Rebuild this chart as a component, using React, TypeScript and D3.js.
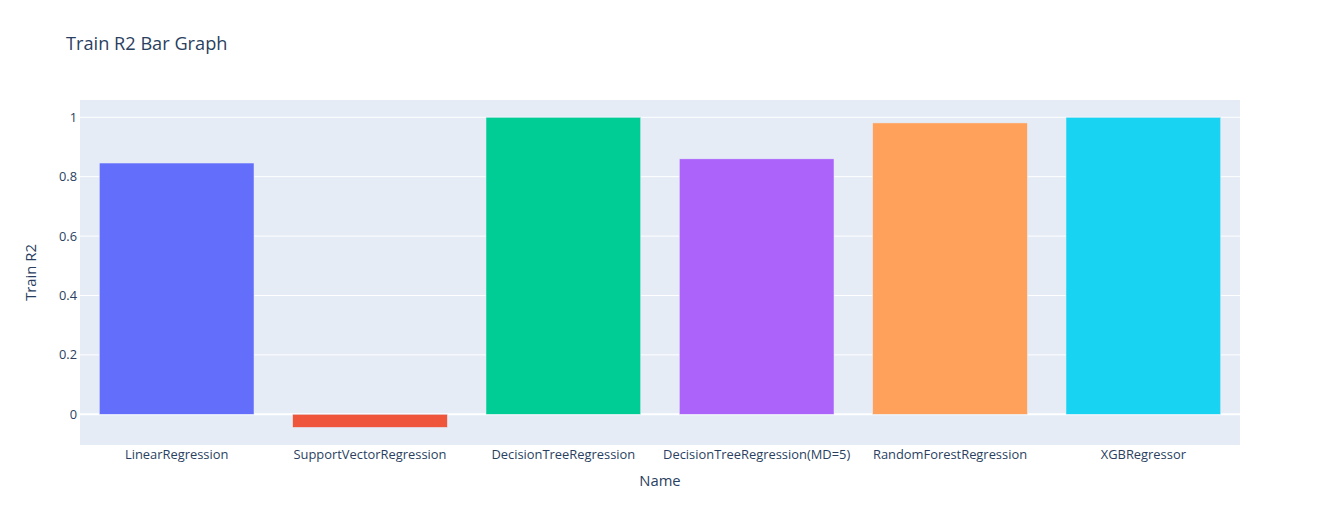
import React from 'react';
import * as d3 from 'd3';

const names = [
  'LinearRegression',
  'SupportVectorRegression',
  'DecisionTreeRegression',
  'DecisionTreeRegression(MD=5)',
  'RandomForestRegression',
  'XGBRegressor',
];
const trainR2 = [0.846, -0.044, 1.0, 0.86, 0.981, 0.9999];
const barColors = ['#636efa', '#EF553B', '#00cc96', '#ab63fa', '#FFA15A', '#19d3f3'];
const yTicks = [0, 0.2, 0.4, 0.6, 0.8, 1];

const W = 1320, H = 525;
const margin = { l: 80, r: 80, t: 100, b: 80 };
const font = '"Open Sans", verdana, arial, sans-serif';
const ink = '#2a3f5f';

export default function App() {
  const pw = W - margin.l - margin.r;
  const ph = H - margin.t - margin.b;

  const x = d3.scaleBand<string>().domain(names).range([0, pw]).paddingInner(0.2).paddingOuter(0.1);
  const y = d3.scaleLinear().domain([-0.1034, 1.0582]).range([ph, 0]);

  return (
    <svg width={W} height={H} style={{ display: 'block', position: 'absolute', left: 0, top: 0 }} fontFamily={font}>
      <rect width={W} height={H} fill="#fff" />
      <text x={66} y={50} fontSize={18.2} fill={ink}>Train R2 Bar Graph</text>
      <g transform={`translate(${margin.l},${margin.t})`}>
        <rect width={pw} height={ph} fill="#E5ECF6" />
        {yTicks.filter(t => t !== 0).map(t => (
          <line key={t} x1={0} x2={pw} y1={y(t)} y2={y(t)} stroke="#fff" strokeWidth={1} />
        ))}
        <line x1={0} x2={pw} y1={y(0)} y2={y(0)} stroke="#fff" strokeWidth={2} />
        {names.map((n, i) => {
          const v = trainR2[i];
          const top = Math.min(y(v), y(0));
          const h = Math.abs(y(v) - y(0));
          return (
            <rect key={n} x={x(n)} y={top} width={x.bandwidth()} height={h}
              fill={barColors[i]} stroke="#E5ECF6" strokeWidth={0.5} />
          );
        })}
        {yTicks.map(t => (
          <text key={t} x={-3} y={y(t)} dy="0.35em" textAnchor="end" fontSize={12.8} fill={ink}>
            {d3.format('~g')(t)}
          </text>
        ))}
        {names.map(n => (
          <text key={n} x={(x(n) ?? 0) + x.bandwidth() / 2} y={ph + 13.5} textAnchor="middle"
            fontSize={12.9} fill={ink}>
            {n}
          </text>
        ))}
        <text x={pw / 2} y={ph + 41} textAnchor="middle" fontSize={14.8} fill={ink}>Name</text>
        <text transform={`translate(${-44},${ph / 2}) rotate(-90)`} textAnchor="middle" fontSize={14.8} fill={ink}>
          Train R2
        </text>
      </g>
    </svg>
  );
}
